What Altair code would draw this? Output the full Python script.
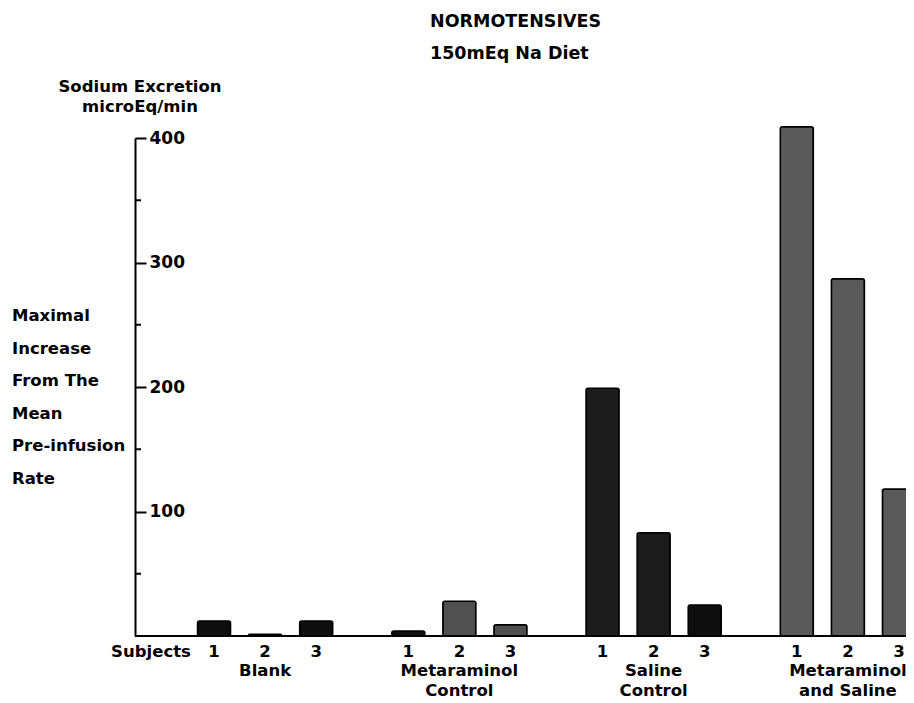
import altair as alt
import pandas as pd

# ---- data ----
groups = ["Blank", "Metaraminol Control", "Saline Control", "Metaraminol and Saline"]
group_labels = ["Blank", "Metaraminol\nControl", "Saline\nControl", "Metaraminol\nand  Saline"]
subjects = ["1", "2", "3"]

blank_vals = [12, 1.5, 12]
met_control_vals = [4, 28, 9]
saline_control_vals = [199, 83, 25]
met_saline_vals = [409, 287, 118]

blank_shades = ["solid", "solid", "solid"]
met_control_shades = ["solid", "stipple", "stipple"]
saline_control_shades = ["hatch", "hatch", "solid"]
met_saline_shades = ["squiggle", "squiggle", "squiggle"]

shade_names = ["solid", "stipple", "hatch", "squiggle"]
shade_colors = ["#0e0e0e", "#505050", "#1c1c1c", "#5a5a5a"]

major_ticks = [100, 200, 300, 400]
minor_ticks = [50, 150, 250, 350]

title_text = "NORMOTENSIVES\n150mEq Na Diet"
ytitle_text = "Sodium Excretion\nmicroEq/min"
side_text = "Maximal\nIncrease\nFrom The\nMean\nPre-infusion\nRate"

# ---- tables ----
rows = []
for g, vals, shades in zip(groups,
                           [blank_vals, met_control_vals, saline_control_vals, met_saline_vals],
                           [blank_shades, met_control_shades, saline_control_shades, met_saline_shades]):
    for s, v, sh in zip(subjects, vals, shades):
        rows.append({"group": g, "subject": s, "value": v, "shade": sh})
df = pd.DataFrame(rows)
gdf = pd.DataFrame({"group": groups, "label": group_labels})

W, H = 771, 498
FONT = "DejaVu Sans"

x_enc = alt.X("group:N", sort=groups,
              scale=alt.Scale(domain=groups, range=[62.5, 780.5], paddingInner=0.304, paddingOuter=0),
              axis=None)
xo_enc = alt.XOffset("subject:N", sort=subjects,
                     scale=alt.Scale(domain=subjects, paddingInner=0.353, paddingOuter=0))
y_scale = alt.Scale(domain=[0, 400], nice=False)

bars = alt.Chart(df).mark_bar(cornerRadius=2, stroke="black", strokeWidth=1.5).encode(
    x=x_enc,
    xOffset=xo_enc,
    y=alt.Y("value:Q", scale=y_scale,
            axis=alt.Axis(orient="right", offset=-W, values=major_ticks, tickSize=11, tickWidth=2,
                          domainWidth=2, domainColor="black", tickColor="black", grid=False,
                          title=None, labelPadding=3, labelFont=FONT, labelFontSize=17,
                          labelFontWeight="bold", labelColor="black", labelBaseline="middle")),
    fill=alt.Fill("shade:N", scale=alt.Scale(domain=shade_names, range=shade_colors), legend=None),
)

minor = alt.Chart(pd.DataFrame({"v": minor_ticks})).mark_rule(color="black", strokeWidth=2).encode(
    y=alt.Y("v:Q", scale=y_scale), x=alt.value(0), x2=alt.value(6)
)

baseline = alt.Chart(pd.DataFrame({"v": [0]})).mark_rule(color="black", strokeWidth=2).encode(
    y=alt.Y("v:Q", scale=y_scale), x=alt.value(0), x2=alt.value(W)
)

txt = dict(font=FONT, fontWeight="bold", color="black")

subj_labels = alt.Chart(df).mark_text(fontSize=16.5, baseline="middle", **txt).encode(
    x=x_enc, xOffset=xo_enc, text="subject:N", y=alt.value(514)
)

grp_labels = alt.Chart(gdf).mark_text(fontSize=16.5, baseline="top", lineBreak="\n",
                                       lineHeight=20, **txt).encode(
    x=x_enc, text="label:N", y=alt.value(525)
)

subjects_word = alt.Chart(pd.DataFrame({"t": ["Subjects"]})).mark_text(
    fontSize=16.5, baseline="middle", align="center", **txt).encode(
    text="t:N", x=alt.value(16), y=alt.value(514)
)

title = alt.Chart(pd.DataFrame({"t": [title_text]})).mark_text(
    fontSize=17.5, baseline="top", align="left", lineBreak="\n", lineHeight=32, **txt).encode(
    text="t:N", x=alt.value(295), y=alt.value(-125)
)

ytitle = alt.Chart(pd.DataFrame({"t": [ytitle_text]})).mark_text(
    fontSize=16.5, baseline="top", align="center", lineBreak="\n", lineHeight=20, **txt).encode(
    text="t:N", x=alt.value(5), y=alt.value(-59)
)

side = alt.Chart(pd.DataFrame({"t": [side_text]})).mark_text(
    fontSize=16.5, baseline="top", align="left", lineBreak="\n", lineHeight=32.6, **txt).encode(
    text="t:N", x=alt.value(-123), y=alt.value(170)
)

chart = alt.layer(bars, minor, baseline, subj_labels, grp_labels, subjects_word, title, ytitle, side).properties(
    width=W, height=H,
    autosize=alt.AutoSizeParams(type="none"),
    padding={"left": 127, "top": 130, "right": 0, "bottom": 65},
    background="white",
).configure_view(stroke=None)

chart.save("out.html", embed_options={"renderer": "svg", "actions": False})
